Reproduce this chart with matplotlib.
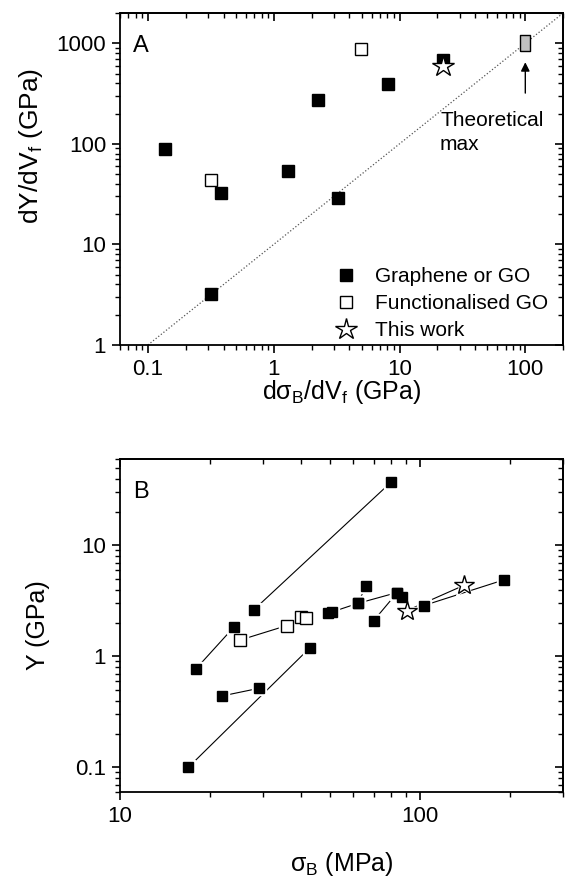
import matplotlib
matplotlib.use('Agg')
import matplotlib.pyplot as plt
from matplotlib.lines import Line2D

plt.rcParams['font.family'] = ['Liberation Sans', 'DejaVu Sans']
plt.rcParams['mathtext.fontset'] = 'custom'
plt.rcParams['mathtext.rm'] = 'Liberation Sans'
plt.rcParams['mathtext.it'] = 'Liberation Sans:italic'
plt.rcParams['mathtext.bf'] = 'Liberation Sans:bold'

# ---- panel A : dY/dVf vs dsigma/dVf ----
graphene_x = [0.136, 0.384, 0.319, 1.29, 2.23, 3.27, 8.1, 22]
graphene_y = [88, 32.5, 3.2, 54, 270, 29, 395, 680]
func_x = [0.319, 4.95]
func_y = [44, 886]
this_x = [22]
this_y = [600]
theory_x = [100]
theory_y = [1000]
ratio_x = [0.1, 200]  # dY/dVf = 10 * dsigma/dVf
ratio_y = [1, 2000]

# ---- panel B : Y vs sigma_B, one list per reference ----
b_graphene = [
    ([17.9, 23.9], [0.77, 1.82]),
    ([27.9, 80], [2.62, 37]),
    ([21.9, 29], [0.44, 0.515]),
    ([16.9, 42.9], [0.1, 1.19]),
    ([49.5, 62, 84], [2.45, 3.0, 3.76]),
    ([62, 66], [3.0, 4.26]),
    ([70, 84], [2.09, 3.76]),
    ([50.7], [2.52]),
    ([87], [3.46]),
    ([103, 191], [2.87, 4.9]),
]
b_func = [
    ([25.1, 35.9, 40.0], [1.40, 1.89, 2.27]),
    ([41.8], [2.2]),
]
b_this = [
    ([90.3, 140], [2.58, 4.36]),
]

fs_tick = 16
fs_label = 18
fs_text = 15

fig = plt.figure(figsize=(5.66, 8.85), dpi=100)
axA = fig.add_axes([0.212, 0.6102, 0.783, 0.3751])
axB = fig.add_axes([0.212, 0.1051, 0.783, 0.3763])


def style(ax):
    for s in ax.spines.values():
        s.set_linewidth(1.3)
    ax.tick_params(which='both', direction='out', top=False, right=False,
                   labelsize=fs_tick, pad=4)
    ax.tick_params(which='major', length=6, width=1.2)
    ax.tick_params(which='minor', length=3.5, width=1)
    top = ax.secondary_xaxis('top')
    top.tick_params(which='both', direction='in', labeltop=False)
    top.tick_params(which='major', length=6, width=1.2)
    top.tick_params(which='minor', length=3.5, width=1)
    right = ax.secondary_yaxis('right')
    right.tick_params(which='both', direction='in', labelright=False)
    right.tick_params(which='major', length=6, width=1.2)
    right.tick_params(which='minor', length=3.5, width=1)
    for sec in (top, right):
        for s in sec.spines.values():
            s.set_linewidth(1.3)


# panel A
axA.set_xscale('log')
axA.set_yscale('log')
axA.set_xlim(0.06, 200)
axA.set_ylim(1, 2000)
axA.plot(ratio_x, ratio_y, ls=':', color='#555555', lw=0.9)
axA.plot(graphene_x, graphene_y, ls='none', marker='s', ms=9, mfc='black', mec='black')
axA.plot(func_x, func_y, ls='none', marker='s', ms=8.5, mfc='white', mec='black', mew=1)
axA.plot(this_x, this_y, ls='none', marker='*', ms=16, mfc='white', mec='black', mew=1)
rect = [(-0.7, -1), (0.7, -1), (0.7, 1), (-0.7, 1), (-0.7, -1)]
axA.plot(theory_x, theory_y, ls='none', marker=rect, ms=11, mfc='#c0c0c0', mec='black', mew=1)
axA.annotate('', xy=(100, 690), xytext=(100, 300),
             arrowprops=dict(arrowstyle='-|>', color='black', lw=1, mutation_scale=13))
axA.text(21, 212, 'Theoretical\nmax', fontsize=fs_text, va='top', ha='left', linespacing=1.35)
axA.text(0.03, 0.9, 'A', transform=axA.transAxes, fontsize=17, va='center', ha='left')

handles = [
    Line2D([], [], ls='none', marker='s', ms=9, mfc='black', mec='black'),
    Line2D([], [], ls='none', marker='s', ms=8.5, mfc='white', mec='black', mew=1),
    Line2D([], [], ls='none', marker='*', ms=16, mfc='white', mec='black', mew=1),
]
axA.legend(handles, ['Graphene or GO', 'Functionalised GO', 'This work'],
           loc='lower left', bbox_to_anchor=(0.486, 0.015), frameon=False,
           fontsize=fs_text, handlelength=1.0, handletextpad=0.9,
           labelspacing=0.38, borderaxespad=0, borderpad=0)
axA.set_xlabel('d\u03c3$_{\\rm B}$/dV$_{\\rm f}$ (GPa)', fontsize=fs_label, labelpad=-1)
axA.set_ylabel('dY/dV$_{\\rm f}$ (GPa)', fontsize=19)
axA.yaxis.set_label_coords(-0.17, 0.6)
axA.set_xticks([0.1, 1, 10, 100])
axA.set_xticklabels(['0.1', '1', '10', '100'])
axA.set_yticks([1, 10, 100, 1000])
axA.set_yticklabels(['1', '10', '100', '1000'])
style(axA)

# panel B
axB.set_xscale('log')
axB.set_yscale('log')
axB.set_xlim(10, 300)
axB.set_ylim(0.06, 60)


def draw_series(ax, series, marker, ms, fill, mew):
    for xs, ys in series:
        if len(xs) > 1:
            ax.plot(xs, ys, color='black', lw=0.8, zorder=2)
        # white halo gives the small gap between line and symbol
        ax.plot(xs, ys, ls='none', marker=marker, ms=ms + 4, mfc='white', mec='white', zorder=3)
        ax.plot(xs, ys, ls='none', marker=marker, ms=ms, mfc=fill, mec='black', mew=mew, zorder=4)


draw_series(axB, b_graphene, 's', 6.5, 'black', 1)
draw_series(axB, b_func, 's', 8, 'white', 1)
draw_series(axB, b_this, '*', 15, 'white', 1)
axB.text(0.03, 0.9, 'B', transform=axB.transAxes, fontsize=17, va='center', ha='left')
axB.set_xlabel('\u03c3$_{\\rm B}$ (MPa)', fontsize=fs_label, labelpad=17)
axB.set_ylabel('Y (GPa)', fontsize=fs_label)
axB.yaxis.set_label_coords(-0.158, 0.5)
axB.set_xticks([10, 100])
axB.set_xticklabels(['10', '100'])
axB.set_yticks([0.1, 1, 10])
axB.set_yticklabels(['0.1', '1', '10'])
style(axB)

fig.savefig('out.png', dpi=100)
